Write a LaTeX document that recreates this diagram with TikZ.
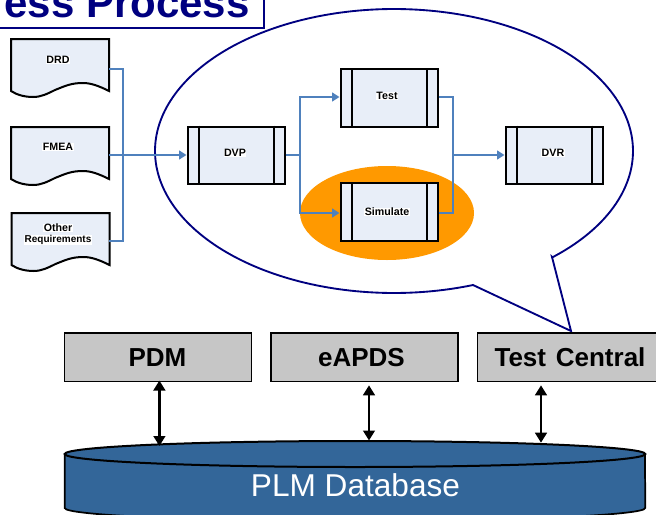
\documentclass[tikz,border=0pt]{standalone}
\usepackage{fontspec}
\setmainfont{Liberation Sans}
\usetikzlibrary{arrows.meta,shapes.geometric}
\definecolor{navyline}{HTML}{000080}
\definecolor{flowblue}{HTML}{4F81BD}
\definecolor{boxfill}{HTML}{E8EEF8}
\definecolor{orangefill}{HTML}{FF9900}
\definecolor{toolgrey}{HTML}{C6C6C6}
\definecolor{dbblue}{HTML}{336699}
\tikzset{
  x=0.75pt,y=-0.75pt,
  flow/.style={draw=flowblue,line width=1.4pt},
  flowarrow/.style={flow,-{Triangle[length=5.5pt,width=6.5pt]}},
  procbox/.style={draw=black,fill=boxfill,line width=1.5pt,minimum width=72.75pt,minimum height=42.75pt,inner sep=0pt},
  proclabel/.style={fill=white,inner sep=0.3pt,font=\fontsize{8}{9}\selectfont\bfseries,anchor=center},
  procbar/.style={draw=black,line width=1.5pt},
  toolbox/.style={draw=black,fill=toolgrey,line width=1.2pt,inner sep=0pt,minimum height=36.3pt},
  toollabel/.style={inner sep=0pt,font=\fontsize{19.5}{21}\selectfont\bfseries,anchor=base},
  docshape/.style={draw=black,fill=boxfill,line width=1.5pt},
  docnode/.style={inner sep=0pt,minimum width=73.5pt,minimum height=30pt},
  doclabel/.style={fill=white,inner sep=0.3pt,font=\fontsize{8}{9}\selectfont\bfseries,anchor=center},
  dbtip/.style={draw=black,{Triangle[length=7.5pt,width=8.7pt]}-{Triangle[length=7.5pt,width=8.7pt]}},
}
\newcommand{\docpath}[2]{% left x, top y
  \draw[docshape,shift={(#1,#2)}] (0,0) -- (98,0) -- (98,52)
    .. controls (88,47) and (80,44) .. (72,44)
    .. controls (60,44) and (54,47) .. (44,51)
    .. controls (36,55) and (30,58) .. (22,58)
    .. controls (14,58) and (6,56) .. (0,52) -- cycle;
}
\newcommand{\procbars}[1]{%
  \draw[procbar] ([xshift=9pt]#1.north west) -- ([xshift=9pt]#1.south west);
  \draw[procbar] ([xshift=-9pt]#1.north east) -- ([xshift=-9pt]#1.south east);
}
\begin{document}
\begin{tikzpicture}
\useasboundingbox (0,0) rectangle (656,514);
\clip (0,0) rectangle (656,514);
% title
\node[draw=navyline,fill=white,line width=1.4pt,minimum width=300pt,minimum height=50pt,anchor=south east,inner sep=0pt] (titlebox) at (265,28.5) {};
\node[anchor=base east,inner sep=0pt,text=navyline,font=\fontsize{31.5}{33}\selectfont\bfseries] (title) at (250,17) {ess Process};
% callout
\coordinate (tailA) at (552,257);
\coordinate (tailTip) at (571,331);
\coordinate (tailB) at (473,285);
\draw[navyline,line width=1.4pt,fill=white,line join=miter] (tailTip) -- (tailA)
  -- plot[domain=48.5:-289.3,samples=240] ({394+239*cos(\x)},{151+142*sin(\x)})
  -- (tailB) -- cycle;
% highlight
\fill[orangefill] (387,213) ellipse [x radius=87,y radius=47];
% documents
\docpath{11}{39}
\docpath{11}{127}
\docpath{11.5}{213}
\node[docnode] (drd) at (60,69) {};
\node[docnode] (fmea) at (60,155) {};
\node[docnode] (other) at (60,241) {};
\node[doclabel] (drdtext) at (58,60) {DRD};
\node[doclabel] (fmeatext) at (58,147) {FMEA};
\node[doclabel] (othertext1) at (58,228) {Other};
\node[doclabel,font=\fontsize{7.5}{9}\selectfont\bfseries] (othertext2) at (58,240) {Requirements};
% processes
\node[procbox] (dvp) at (236,155) {};
\node[procbox,minimum height=43.5pt] (test) at (389,98) {};
\node[procbox,minimum height=43.5pt] (sim) at (389,212) {};
\node[procbox] (dvr) at (554,155) {};
\procbars{dvp}\procbars{test}\procbars{sim}\procbars{dvr}
\node[proclabel] (dvptext) at (235,153) {DVP};
\node[proclabel] (testtext) at (387,96) {Test};
\node[proclabel] (simtext) at (387,212) {Simulate};
\node[proclabel] (dvrtext) at (553,153) {DVR};
% flows
\draw[flow] (drd.east) -| (123,241) -- (other.east);
\draw[flowarrow] (fmea.east) -- (dvp.west);
\coordinate (split) at (300,155);
\draw[flow] (dvp.east) -- (split);
\draw[flowarrow] (split) |- ([yshift=0.75pt]test.west);
\draw[flowarrow] (split) |- ([yshift=-0.75pt]sim.west);
\coordinate (join) at (453,155);
\draw[flow] ([yshift=0.75pt]test.east) -| (join);
\draw[flow] ([yshift=-0.75pt]sim.east) -| (join);
\draw[flowarrow] (join) -- (dvr.west);
% tools
\node[toolbox,minimum width=140pt] (pdm) at (158,357.2) {};
\node[toolbox,minimum width=140.3pt] (eapds) at (364.3,357.2) {};
\node[toolbox,minimum width=150pt,anchor=west] (central) at (476.7,357.2) {};
\node[toollabel] (pdmtext) at (157.5,366.7) {PDM};
\node[toollabel] (eapdstext) at (361.5,366.7) {eAPDS};
\node[toollabel] (centraltext) at (570,366.7) {Test\hspace{0.1em} Central};
% database
\fill[dbblue,draw=black,line width=1.3pt] (64.7,454) -- (64.7,508)
  arc[start angle=180,end angle=360,x radius=217.7pt,y radius=9.75pt] -- (645,454) -- cycle;
\node[draw=black,fill=dbblue,line width=1.5pt,ellipse,minimum width=435.4pt,minimum height=19.5pt,inner sep=0pt] (db) at (355,454) {};
\node[inner sep=0pt,anchor=base,text=white,font=\fontsize{23.7}{25}\selectfont] (dbtext) at (355.5,496.7) {PLM Database};
% database arrows
\coordinate (a1) at (159.4,446);
\coordinate (a2) at (369,440.5);
\coordinate (a3) at (541,442.7);
\coordinate (t1) at (159.4,380.5);
\coordinate (t2) at (369,385.3);
\coordinate (t3) at (541,385.3);
\draw[dbtip,line width=2.8pt] (t1) -- (a1);
\draw[dbtip,line width=2.1pt] (t2) -- (a2);
\draw[dbtip,line width=2.1pt] (t3) -- (a3);
\end{tikzpicture}
\end{document}
